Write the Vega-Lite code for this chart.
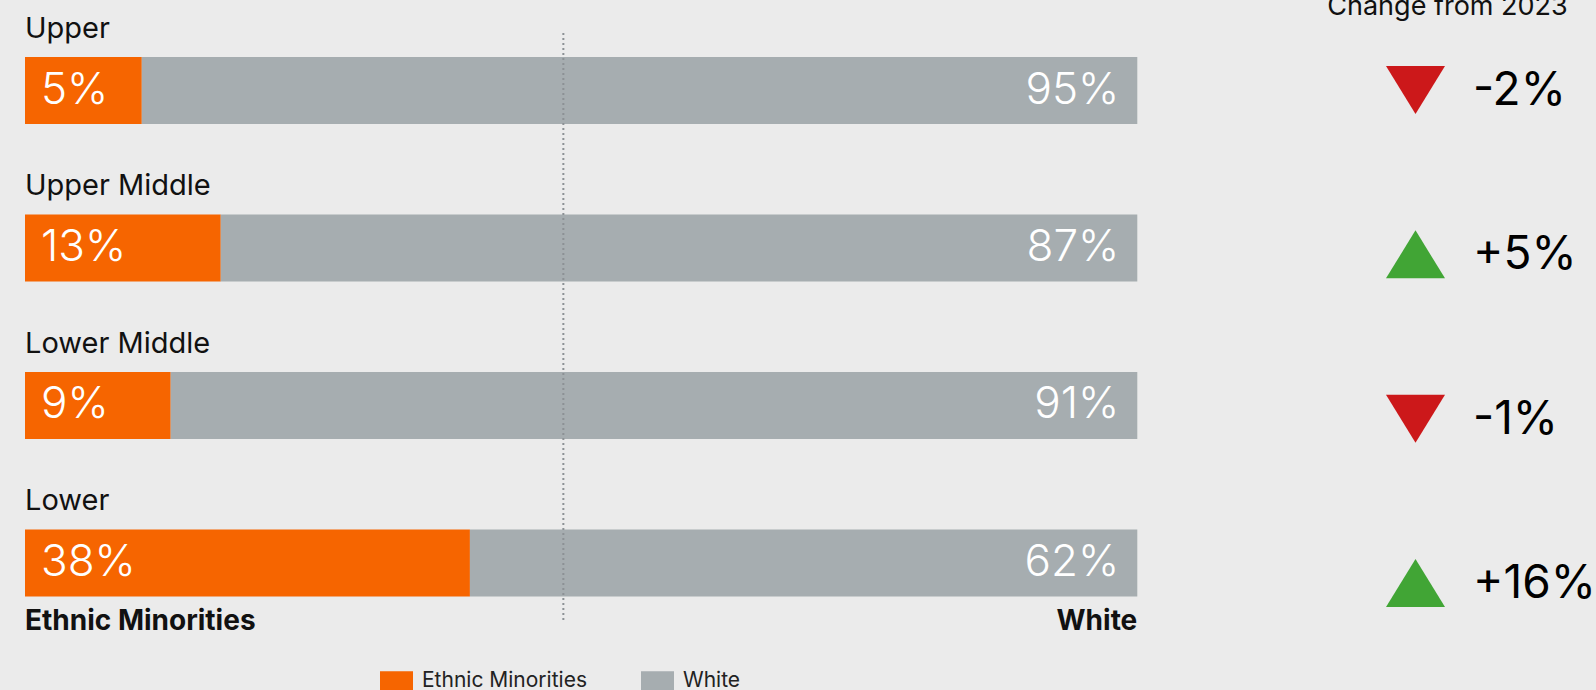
{
  "$schema": "https://vega.github.io/schema/vega-lite/v6.json",
  "width": 1596,
  "height": 690,
  "padding": 0,
  "autosize": {"type": "none"},
  "background": "#EBEBEB",
  "config": {
    "view": {"stroke": null},
    "font": "Inter",
    "text": {"font": "Inter"},
    "locale": {"number": {"decimal": ".", "thousands": ",", "grouping": [3], "currency": ["$", ""], "minus": "-"}}
  },
  "layer": [
    {
      "data": {
        "values": [
          {"class": "Upper", "group": "Ethnic Minorities", "pct": 0.05, "len": 0.105},
          {"class": "Upper", "group": "White", "pct": 0.95, "len": 0.895},
          {"class": "Upper Middle", "group": "Ethnic Minorities", "pct": 0.13, "len": 0.176},
          {"class": "Upper Middle", "group": "White", "pct": 0.87, "len": 0.824},
          {"class": "Lower Middle", "group": "Ethnic Minorities", "pct": 0.09, "len": 0.131},
          {"class": "Lower Middle", "group": "White", "pct": 0.91, "len": 0.869},
          {"class": "Lower", "group": "Ethnic Minorities", "pct": 0.38, "len": 0.40},
          {"class": "Lower", "group": "White", "pct": 0.62, "len": 0.60}
        ]
      },
      "encoding": {
        "y": {
          "field": "class",
          "type": "nominal",
          "axis": null,
          "scale": {
            "type": "band",
            "domain": ["Upper", "Upper Middle", "Lower Middle", "Lower"],
            "range": [57, 596.5],
            "paddingInner": 0.5745,
            "paddingOuter": 0
          }
        }
      },
      "layer": [
        {
          "mark": {"type": "bar", "cornerRadius": 0},
          "encoding": {
            "x": {
              "field": "len",
              "type": "quantitative",
              "stack": "zero",
              "axis": null,
              "scale": {"domain": [0, 1], "range": [25, 1137.3], "nice": false, "zero": true}
            },
            "color": {
              "field": "group",
              "type": "nominal",
              "scale": {"domain": ["Ethnic Minorities", "White"], "range": ["#F66500", "#A6ADB0"]},
              "legend": {
                "orient": "none",
                "legendX": 380,
                "legendY": 664,
                "direction": "horizontal",
                "title": null,
                "padding": 0,
                "symbolType": "M-1,-0.58H1V0.58H-1Z",
                "symbolSize": 1089,
                "symbolStrokeWidth": 0,
                "symbolOpacity": 1,
                "labelFont": "Inter",
                "labelFontSize": 21,
                "labelColor": "#222222",
                "labelOffset": 9,
                "labelLimit": 400,
                "columnPadding": 54
              }
            },
            "order": {"field": "group", "sort": "ascending"}
          }
        },
        {
          "transform": [{"filter": "datum.group === 'Ethnic Minorities'"}],
          "mark": {"type": "text", "align": "left", "baseline": "middle", "dx": 16, "fontSize": 44, "fontWeight": 300, "color": "#FFFFFF"},
          "encoding": {
            "x": {"datum": 0, "type": "quantitative"},
            "text": {"field": "pct", "type": "quantitative", "format": ".0%"}
          }
        },
        {
          "transform": [{"filter": "datum.group === 'White'"}],
          "mark": {"type": "text", "align": "right", "baseline": "middle", "dx": -18, "fontSize": 44, "fontWeight": 300, "color": "#FFFFFF"},
          "encoding": {
            "x": {"datum": 1, "type": "quantitative"},
            "text": {"field": "pct", "type": "quantitative", "format": ".0%"}
          }
        },
        {
          "transform": [{"filter": "datum.group === 'White'"}],
          "mark": {"type": "text", "align": "left", "baseline": "alphabetic", "dy": -19, "fontSize": 29, "color": "#111111"},
          "encoding": {
            "x": {"datum": 0, "type": "quantitative"},
            "y": {"field": "class", "type": "nominal", "bandPosition": 0},
            "text": {"field": "class", "type": "nominal"}
          }
        },
        {
          "data": {"values": [{"side": "Ethnic Minorities"}]},
          "mark": {"type": "text", "align": "left", "baseline": "alphabetic", "dy": 33, "fontSize": 28, "fontWeight": "bold", "color": "#111111"},
          "encoding": {
            "x": {"datum": 0, "type": "quantitative"},
            "y": {"datum": "Lower", "type": "nominal", "bandPosition": 1},
            "text": {"field": "side", "type": "nominal"}
          }
        },
        {
          "data": {"values": [{"side": "White"}]},
          "mark": {"type": "text", "align": "right", "baseline": "alphabetic", "dy": 33, "fontSize": 28, "fontWeight": "bold", "color": "#111111"},
          "encoding": {
            "x": {"datum": 1, "type": "quantitative"},
            "y": {"datum": "Lower", "type": "nominal", "bandPosition": 1},
            "text": {"field": "side", "type": "nominal"}
          }
        },
        {
          "data": {"values": [{"ref": 0.484}]},
          "mark": {"type": "rule", "strokeDash": [2, 3], "strokeWidth": 2, "color": "#8C9195", "yOffset": -24, "y2Offset": 26.5},
          "encoding": {
            "x": {"field": "ref", "type": "quantitative"},
            "y": {"datum": "Upper", "type": "nominal", "bandPosition": 0},
            "y2": {"datum": "Lower", "bandPosition": 1}
          }
        }
      ]
    },
    {
      "data": {
        "values": [
          {"class": "Upper", "change": -0.02, "direction": "down"},
          {"class": "Upper Middle", "change": 0.05, "direction": "up"},
          {"class": "Lower Middle", "change": -0.01, "direction": "down"},
          {"class": "Lower", "change": 0.16, "direction": "up"}
        ]
      },
      "encoding": {
        "y": {
          "field": "class",
          "type": "nominal",
          "axis": null,
          "scale": {
            "type": "point",
            "domain": ["Upper", "Upper Middle", "Lower Middle", "Lower"],
            "range": [90, 583],
            "padding": 0
          }
        }
      },
      "layer": [
        {
          "mark": {"type": "point", "filled": true, "size": 3481, "opacity": 1, "strokeWidth": 0},
          "encoding": {
            "x": {"datum": 0, "type": "quantitative", "axis": null, "scale": {"domain": [0, 1], "range": [1415.5, 1473], "nice": false, "zero": false}},
            "shape": {
              "field": "direction",
              "type": "nominal",
              "legend": null,
              "scale": {"domain": ["down", "up"], "range": ["M0,0.814L1,-0.814L-1,-0.814Z", "M0,-0.814L1,0.814L-1,0.814Z"]}
            },
            "fill": {
              "field": "direction",
              "type": "nominal",
              "legend": null,
              "scale": {"domain": ["down", "up"], "range": ["#CC181A", "#41A535"]}
            }
          }
        },
        {
          "mark": {"type": "text", "align": "left", "baseline": "alphabetic", "dy": 15, "fontSize": 46, "color": "#000000"},
          "encoding": {
            "x": {"datum": 1, "type": "quantitative"},
            "text": {"field": "change", "type": "quantitative", "format": "+.0%"}
          }
        },
        {
          "data": {"values": [{"heading": "Change from 2023"}]},
          "mark": {"type": "text", "align": "center", "baseline": "alphabetic", "dx": 32, "dy": -75, "fontSize": 27, "color": "#111111"},
          "encoding": {
            "x": {"datum": 0, "type": "quantitative"},
            "y": {"datum": "Upper", "type": "nominal"},
            "text": {"field": "heading", "type": "nominal"}
          }
        }
      ]
    }
  ],
  "resolve": {"scale": {"x": "independent", "y": "independent", "color": "independent"}}
}
